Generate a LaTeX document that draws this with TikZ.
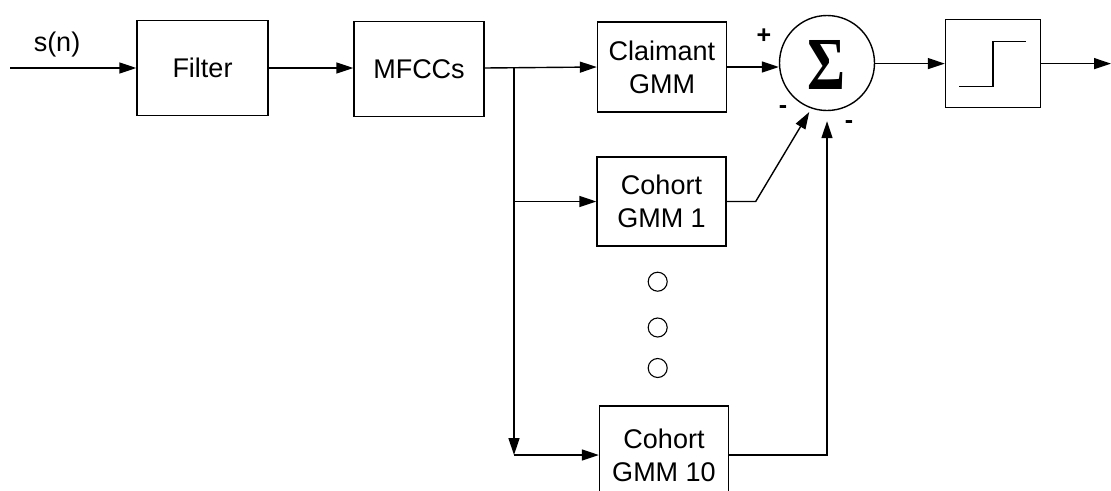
\documentclass[tikz,border=0pt]{standalone}
\usepackage{fontspec}
\setmainfont{Liberation Sans}
\newfontfamily\sigmafont{Liberation Serif}
\usetikzlibrary{arrows.meta}
\begin{document}
\begin{tikzpicture}[x=1pt,y=-1pt,
  line width=1.4pt,
  every node/.style={font=\fontsize{27}{33}\selectfont},
  blk/.style={draw, line width=1.4pt, rectangle, inner sep=0pt, align=center},
  arr/.style={-{Triangle[length=17pt,width=11pt]}},
  dotc/.style={draw, circle, line width=1.1pt, minimum size=19pt, inner sep=0pt},
  sgn/.style={font=\fontsize{25}{25}\selectfont\bfseries, inner sep=0pt}]
\useasboundingbox (0,0) rectangle (1111,490);
\clip (0,0) rectangle (1111,490);
% blocks
\node[blk, minimum width=131pt, minimum height=95pt] (filter) at (202.5,68) {Filter};
\node[blk, minimum width=130pt, minimum height=95pt] (mfcc) at (419,69) {MFCCs};
\node[blk, minimum width=129pt, minimum height=90pt] (claim) at (662,67) {Claimant\\GMM};
\node[blk, minimum width=129pt, minimum height=89pt] (coh1) at (661.5,201.5) {Cohort\\GMM 1};
\node[blk, minimum width=129pt, minimum height=98pt] (coh10) at (664,455) {Cohort\\GMM 10};
\node[draw, circle, line width=1.4pt, minimum size=95pt, inner sep=0pt] (sum) at (827,63) {};
\node[inner sep=0pt] (sig) at (826.7,65) {\resizebox{38pt}{49pt}{\sigmafont\bfseries Σ}};
\node[blk, minimum width=95pt, minimum height=88pt] (step) at (993,63.6) {};
% step symbol
\draw[line width=1.4pt] ([shift={(-34pt,-22.8pt)}]step.center) -- ([shift={(0pt,-22.8pt)}]step.center)
  -- ([shift={(0pt,22.3pt)}]step.center) -- ([shift={(32.6pt,22.3pt)}]step.center);
% dots
\node[dotc] (d1) at (657.7,281.7) {};
\node[dotc] (d2) at (657.7,327.5) {};
\node[dotc] (d3) at (657.7,368) {};
% labels
\node (sn) at (57,45) {s(n)};
\node[sgn] (plus) at (764,36) {+};
\node[sgn] (m1) at (783,110) {-};
\node[sgn] (m2) at (849,125) {-};
% connectors
\coordinate (in) at (10,68);
\coordinate (out) at (1111,63.6);
\coordinate (br) at (514,68);
\draw[arr] (in) -- (filter.west);
\draw[arr] (filter.east) -- (mfcc.west |- filter.east);
\draw[arr] (mfcc.east |- br) -- (claim.west);
\draw[arr] (claim.east) -- (sum.west |- claim.east);
\draw[arr] (sum.east |- step.west) -- (step.west);
\draw[arr] (step.east) -- (out);
\draw[arr] (br) -- (br |- coh10.west);
\draw[arr] (br |- coh10.west) -- (coh10.west);
\draw[arr] (br |- coh1.west) -- (coh1.west);
\draw[arr, shorten >=4pt] (coh1.east) -- ++(29,0) coordinate (k1) -- (sum.-109);
\draw[arr, shorten >=10pt] (coh10.east) -| (sum.south);
\end{tikzpicture}
\end{document}
